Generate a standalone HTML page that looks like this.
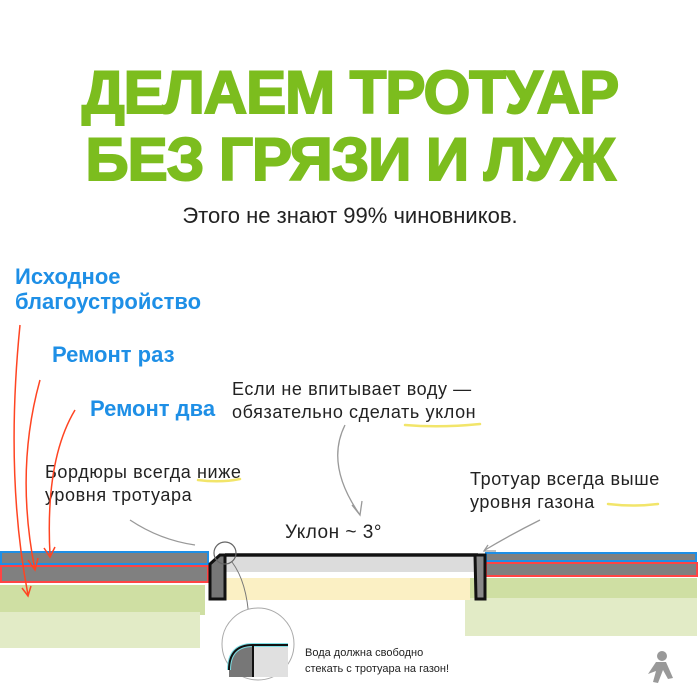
<!DOCTYPE html>
<html><head><meta charset="utf-8"><style>
body{margin:0;width:700px;height:700px;background:#fff;overflow:hidden;position:relative;font-family:"Liberation Sans",sans-serif}
.t{position:absolute;white-space:nowrap}
.h{color:#7cbd1e;font-weight:bold;font-size:60px;left:0;width:700px;text-align:center;letter-spacing:-1px;-webkit-text-stroke:2px #7cbd1e}
.b{color:#1e8fe6;font-weight:bold;font-size:22px}
.g{color:#222;font-size:18px;line-height:23px;letter-spacing:0.6px}
</style></head><body>
<div class="t h" style="top:58px">ДЕЛАЕМ ТРОТУАР</div>
<div class="t h" style="top:125px">БЕЗ ГРЯЗИ И ЛУЖ</div>
<div class="t" style="top:203px;left:0;width:700px;text-align:center;font-size:22px;color:#222">Этого не знают 99% чиновников.</div>
<div class="t b" style="left:15px;top:264px">Исходное</div>
<div class="t b" style="left:15px;top:289px">благоустройство</div>
<div class="t b" style="left:52px;top:342px">Ремонт раз</div>
<div class="t b" style="left:90px;top:396px">Ремонт два</div>
<div class="t g" style="left:232px;top:378px">Если не впитывает воду —<br>обязательно сделать уклон</div>
<div class="t g" style="left:45px;top:461px">Бордюры всегда ниже<br>уровня тротуара</div>
<div class="t g" style="left:470px;top:468px">Тротуар всегда выше<br>уровня газона</div>
<div class="t" style="left:285px;top:522px;font-size:19px;color:#222;letter-spacing:0.5px">Уклон ~ 3°</div>
<div class="t" style="left:305px;top:645px;font-size:11px;line-height:16px;color:#222">Вода должна свободно<br>стекать с тротуара на газон!</div>
<svg width="700" height="700" style="position:absolute;left:0;top:0">
<g fill="none" stroke-width="2.5" stroke-linecap="round">
<path d="M405 425 q35 3 75 -1" stroke="#f2e56a"/>
<path d="M198 480 q22 3 42 -1" stroke="#f2e56a"/>
<path d="M608 504 q25 3 50 0" stroke="#f2e56a"/>
</g>
<rect x="0" y="585" width="205" height="30" fill="#cfdfa3"/>
<rect x="0" y="612" width="200" height="36" fill="#e2ebc6"/>
<rect x="470" y="578" width="227" height="22" fill="#cfdfa3"/>
<rect x="465" y="598" width="232" height="38" fill="#e2ebc6"/>
<rect x="225" y="557" width="250" height="15" fill="#dcdcdc"/>
<rect x="225" y="578" width="245" height="22" fill="#fbf0c4"/>
<rect x="1" y="552" width="207" height="12" fill="#808080" stroke="#1e8fe6" stroke-width="2"/>
<rect x="1" y="566" width="207" height="16" fill="#808080" stroke="#ff4444" stroke-width="2"/>
<rect x="486" y="553" width="210" height="8" fill="#808080" stroke="#1e8fe6" stroke-width="2"/>
<rect x="486" y="563" width="211" height="13" fill="#808080" stroke="#ff4444" stroke-width="2"/>
<path d="M210 564 l10 -9 h5 v44 h-15 z" fill="#777" stroke="#111" stroke-width="3"/>
<path d="M225 555 H478" stroke="#111" stroke-width="3.5"/>
<path d="M475 555 h10 v44 h-9 z" fill="#888" stroke="#111" stroke-width="3"/>
<circle cx="225" cy="553" r="11" fill="none" stroke="#666" stroke-width="1.2"/>
<path d="M232 562 q15 20 17 58" fill="none" stroke="#777" stroke-width="1"/>
<circle cx="258" cy="644" r="36" fill="#fff" stroke="#aaa" stroke-width="1"/>
<rect x="253" y="645" width="35" height="32" fill="#e0e0e0"/>
<path d="M229 670 q0 -25 24 -25 v32 h-24z" fill="#777"/>
<path d="M229 670 q0 -25 24 -25 h35" fill="none" stroke="#7fe0e6" stroke-width="4"/>
<path d="M229 670 q0 -25 24 -25 h35 M253 645 v32" fill="none" stroke="#111" stroke-width="2"/>
<g fill="none" stroke="#999" stroke-width="1.3">
<path d="M345 425 q-20 40 15 90 M352 505 l8 10 l2 -14"/>
<path d="M130 520 q30 20 65 25"/>
<path d="M540 520 q-30 15 -55 30 M488 545 l-4 6 l12 0"/>
</g>
<g fill="none" stroke="#ff4422" stroke-width="1.5">
<path d="M20 325 q-15 150 8 270 M22 588 l6 8 l3 -10"/>
<path d="M40 380 q-25 90 -5 190 M28 560 l7 10 l3 -12"/>
<path d="M75 410 q-30 50 -25 145 M44 548 l6 9 l5 -10"/>
</g>
<g fill="#999"><circle cx="662" cy="656" r="5"/><path d="M656 662 l10 0 l7 16 l-5 1 l-5 -9 l-5 13 l-5 -1 l3 -11 l-8 3 z"/></g>
</svg>
</body></html>
